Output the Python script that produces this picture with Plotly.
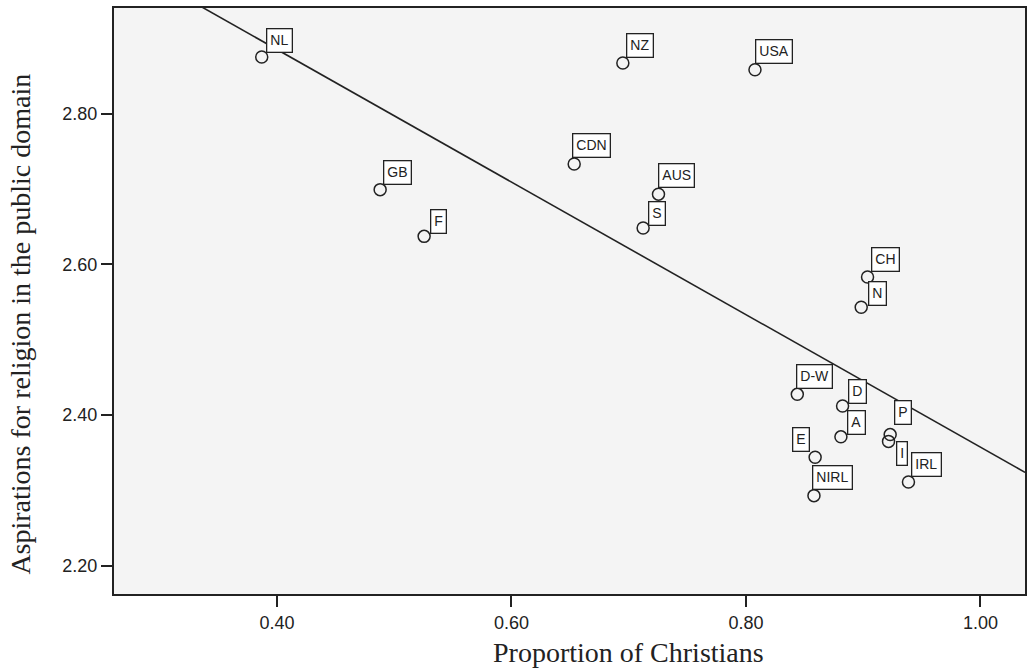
import numpy as np
import plotly.graph_objects as go

# ---- data ----
countries = ["NL", "GB", "F", "NZ", "USA", "CDN", "AUS", "S", "CH", "N",
             "D-W", "D", "A", "E", "NIRL", "P", "I", "IRL"]
prop_christians = [0.387, 0.488, 0.5255, 0.695, 0.8077, 0.6535, 0.7254, 0.7123, 0.9037, 0.8983,
                   0.8438, 0.8824, 0.881, 0.859, 0.858, 0.923, 0.9216, 0.9386]
aspirations = [2.875, 2.699, 2.637, 2.867, 2.858, 2.733, 2.693, 2.648, 2.583, 2.543,
               2.4274, 2.412, 2.371, 2.344, 2.293, 2.374, 2.365, 2.311]
x_ticks = [0.40, 0.60, 0.80, 1.00]
y_ticks = [2.20, 2.40, 2.60, 2.80]
x_title = "Proportion of Christians"
y_title = "Aspirations for religion in the public domain"

# ---- label placement (style): (xshift, yshift, xanchor, yanchor) ----
label_place = {
    "NL": (4, 4.4, "left", "bottom"), "GB": (3.3, 4.6, "left", "bottom"),
    "F": (5.7, 2, "left", "bottom"), "NZ": (3.4, 5.3, "left", "bottom"),
    "USA": (0, 5.7, "left", "bottom"), "CDN": (-2, 6.3, "left", "bottom"),
    "AUS": (-0.4, 6, "left", "bottom"), "S": (5, 2, "left", "bottom"),
    "CH": (3.3, 5, "left", "bottom"), "N": (6.6, 1.3, "left", "bottom"),
    "D-W": (-1.4, 5.7, "left", "bottom"), "D": (5.3, 2.4, "left", "bottom"),
    "A": (6, 2.3, "left", "bottom"), "E": (-5, 5.6, "right", "bottom"),
    "NIRL": (-2, 5.7, "left", "bottom"), "P": (4, 10, "left", "bottom"),
    "I": (7.3, 0.7, "left", "top"), "IRL": (3, 5, "left", "bottom"),
}

X_RANGE = [0.261, 1.038]
Y_RANGE = [2.1625, 2.94]
INK = "#222222"

fig = go.Figure()

# regression line (OLS fit of the data)
slope, intercept = np.polyfit(prop_christians, aspirations, 1)
xl = np.array(X_RANGE)
fig.add_trace(go.Scatter(x=xl, y=slope * xl + intercept, mode="lines",
                         line=dict(color=INK, width=1.6), hoverinfo="skip",
                         showlegend=False))

fig.add_trace(go.Scatter(x=prop_christians, y=aspirations, mode="markers",
                         marker=dict(symbol="circle-open", size=12,
                                     line=dict(color=INK, width=1.5), color=INK),
                         text=countries, showlegend=False))

for c, xv, yv in zip(countries, prop_christians, aspirations):
    dx, dy, xa, ya = label_place[c]
    fig.add_annotation(x=xv, y=yv, xref="x", yref="y", text=c, showarrow=False,
                       xanchor=xa, yanchor=ya, xshift=dx, yshift=dy,
                       font=dict(family="Liberation Sans, Arial", size=14, color=INK),
                       bgcolor="white", bordercolor=INK, borderwidth=1.3, borderpad=3)

# axis titles
fig.add_annotation(text=x_title, xref="paper", yref="paper", x=0.565, y=-0.1,
                   xanchor="center", yanchor="middle", showarrow=False,
                   font=dict(family="Liberation Serif, Times New Roman", size=28, color=INK))
fig.add_annotation(text=y_title, xref="paper", yref="paper", x=-0.103, y=0.46,
                   xanchor="center", yanchor="middle", showarrow=False, textangle=-90,
                   font=dict(family="Liberation Serif, Times New Roman", size=28, color=INK))

axis_common = dict(showline=True, mirror=True, linecolor=INK, linewidth=2,
                   ticks="outside", ticklen=11, tickwidth=2, tickcolor=INK,
                   showgrid=False, zeroline=False,
                   tickfont=dict(family="Liberation Sans, Arial", size=18, color=INK))
fig.update_xaxes(range=X_RANGE, tickvals=x_ticks,
                 ticktext=[f"{v:.2f}" for v in x_ticks], **axis_common)
fig.update_yaxes(range=Y_RANGE, tickvals=y_ticks,
                 ticktext=[f"{v:.2f}" for v in y_ticks], **axis_common)

fig.update_layout(width=1033, height=669,
                  margin=dict(l=114, r=6, t=7, b=75, pad=0),
                  paper_bgcolor="white", plot_bgcolor="#f4f4f4")

fig.write_html("out.html", config={"displayModeBar": False},
               post_script="document.body.style.margin='0';document.body.style.overflow='hidden';")
